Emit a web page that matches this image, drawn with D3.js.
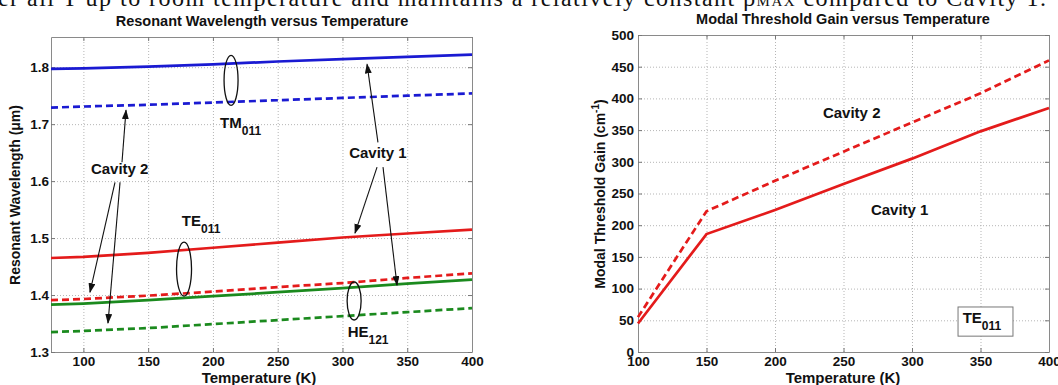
<!DOCTYPE html>
<html>
<head>
<meta charset="utf-8">
<script src="https://cdn.jsdelivr.net/npm/d3@7"></script>
<style>
  body { margin: 0; background: #fff; }
  svg { display: block; font-family: "Liberation Sans", Arial, sans-serif; }
  .tick text { font-weight: bold; font-size: 13.5px; fill: #111; }
  .domain { stroke: #8a8a8a; }
  .tick line { stroke: #777; }
  .grid .tick line { stroke: #b5b5b5; stroke-dasharray: 1,2; }
  .grid .domain { display: none; }
  .lbl { font-weight: bold; fill: #111; }
</style>
</head>
<body>
<svg id="fig" width="1058" height="385"></svg>
<script>
// Left panel: resonant wavelength (um) vs temperature (K)
const tempsL = [75, 100, 150, 200, 250, 300, 350, 400];
const tmCav1 = [1.797, 1.798, 1.801, 1.805, 1.810, 1.814, 1.818, 1.822];
const tmCav2 = [1.729, 1.731, 1.734, 1.738, 1.742, 1.746, 1.750, 1.754];
const teCav1 = [1.465, 1.467, 1.474, 1.483, 1.492, 1.501, 1.508, 1.515];
const teCav2 = [1.391, 1.393, 1.399, 1.406, 1.414, 1.421, 1.430, 1.438];
const heCav1 = [1.383, 1.385, 1.391, 1.398, 1.405, 1.412, 1.420, 1.427];
const heCav2 = [1.335, 1.337, 1.342, 1.349, 1.356, 1.363, 1.370, 1.377];
const xTicksL = [100, 150, 200, 250, 300, 350, 400];
const yTicksL = [1.3, 1.4, 1.5, 1.6, 1.7, 1.8];

// Right panel: modal threshold gain (cm^-1) vs temperature, TE011
const tempsR = [100, 150, 200, 250, 300, 350, 400];
const gainCav1 = [45, 186, 224, 265, 305, 348, 385];
const gainCav2 = [55, 222, 270, 316, 362, 408, 460];
const xTicksR = [100, 150, 200, 250, 300, 350, 400];
const yTicksR = [0, 50, 100, 150, 200, 250, 300, 350, 400, 450, 500];

const BLUE = "#1a1ad2", RED = "#e41b1b", GREEN = "#1b8a1e";

const svg = d3.select("#fig");

svg.append("defs").append("marker")
  .attr("id", "arr")
  .attr("markerUnits", "userSpaceOnUse")
  .attr("markerWidth", 10).attr("markerHeight", 8)
  .attr("refX", 9).attr("refY", 3.5)
  .attr("orient", "auto")
  .append("path").attr("d", "M0,0 L10,3.5 L0,7 z").attr("fill", "#111");

// clipped sentence from the page above the figure
const pageLine = svg.append("text")
  .attr("x", -2).attr("y", 6)
  .attr("textLength", 1048).attr("lengthAdjust", "spacing")
  .style("font-family", "'Liberation Serif', 'Times New Roman', serif")
  .style("font-size", "24px").attr("fill", "#111");
pageLine.append("tspan").text("er all T up to room temperature and maintains a relatively constant \u03C1");
pageLine.append("tspan").style("font-size", "15px").text("MAX");
pageLine.append("tspan").text(" compared to Cavity 1.");

function frame(x, y, xt, yt, yfmt, ypad) {
  const [x0, x1] = x.range(), [y0, y1] = y.range();
  const g = svg.append("g");
  // grid
  g.append("g").attr("class", "grid").attr("transform", `translate(0,${y0})`)
    .call(d3.axisBottom(x).tickValues(xt).tickSize(-(y0 - y1)).tickFormat(""));
  g.append("g").attr("class", "grid").attr("transform", `translate(${x0},0)`)
    .call(d3.axisLeft(y).tickValues(yt).tickSize(-(x1 - x0)).tickFormat(""));
  // axes with inward ticks
  g.append("g").attr("transform", `translate(0,${y0})`)
    .call(d3.axisBottom(x).tickValues(xt).tickSize(-4).tickSizeOuter(0).tickPadding(4));
  g.append("g").attr("transform", `translate(0,${y1})`)
    .call(d3.axisTop(x).tickValues(xt).tickSize(-4).tickSizeOuter(0).tickFormat(""));
  g.append("g").attr("transform", `translate(${x0},0)`)
    .call(d3.axisLeft(y).tickValues(yt).tickSize(-4).tickSizeOuter(0).tickPadding(ypad).tickFormat(yfmt));
  g.append("g").attr("transform", `translate(${x1},0)`)
    .call(d3.axisRight(y).tickValues(yt).tickSize(-4).tickSizeOuter(0).tickFormat(""));
  return g;
}

function series(x, y, xs, ys, color, dashed) {
  svg.append("path")
    .datum(d3.zip(xs, ys))
    .attr("fill", "none")
    .attr("stroke", color)
    .attr("stroke-width", 2.7)
    .attr("stroke-dasharray", dashed ? "7,4" : null)
    .attr("d", d3.line().x(d => x(d[0])).y(d => y(d[1])));
}

function label(x, y, t, v, txt, sub, anchor) {
  const el = svg.append("text").attr("class", "lbl")
    .attr("x", x(t)).attr("y", y(v))
    .attr("text-anchor", anchor || "start")
    .style("font-size", "15px").text(txt);
  if (sub) el.append("tspan").attr("dy", 7).style("font-size", "12px").text(sub);
}

function arrow(x, y, t0, v0, t1, v1) {
  svg.append("line")
    .attr("x1", x(t0)).attr("y1", y(v0)).attr("x2", x(t1)).attr("y2", y(v1))
    .attr("stroke", "#111").attr("stroke-width", 1.1)
    .attr("marker-end", "url(#arr)");
}

function ring(x, y, t, v, rx, ry) {
  svg.append("ellipse")
    .attr("cx", x(t)).attr("cy", y(v)).attr("rx", rx).attr("ry", ry)
    .attr("fill", "none").attr("stroke", "#111").attr("stroke-width", 1.3);
}

// ---------- left panel ----------
const xL = d3.scaleLinear().domain([75, 400]).range([51, 472]);
const yL = d3.scaleLinear().domain([1.3, 1.853]).range([352, 37]);
frame(xL, yL, xTicksL, yTicksL, d3.format(".1f"), 2);

series(xL, yL, tempsL, tmCav1, BLUE, false);
series(xL, yL, tempsL, tmCav2, BLUE, true);
series(xL, yL, tempsL, teCav1, RED, false);
series(xL, yL, tempsL, teCav2, RED, true);
series(xL, yL, tempsL, heCav1, GREEN, false);
series(xL, yL, tempsL, heCav2, GREEN, true);

ring(xL, yL, 214, 1.777, 7, 25);
ring(xL, yL, 177.7, 1.4456, 7.5, 27);
ring(xL, yL, 309, 1.3895, 7, 19);
label(xL, yL, 205.5, 1.693, "TM", "011");
label(xL, yL, 176, 1.521, "TE", "011");
label(xL, yL, 304, 1.326, "HE", "121");
label(xL, yL, 128, 1.612, "Cavity 2", null, "middle");
label(xL, yL, 327.4, 1.640, "Cavity 1", null, "middle");

arrow(xL, yL, 129.8, 1.633, 132.9, 1.7246);
arrow(xL, yL, 124.4, 1.598, 105.1, 1.405);
arrow(xL, yL, 128.3, 1.598, 119, 1.351);
arrow(xL, yL, 327.4, 1.668, 319, 1.805);
arrow(xL, yL, 326.7, 1.6246, 309.7, 1.5088);
arrow(xL, yL, 331.3, 1.6246, 342.1, 1.4175);

svg.append("text").attr("class", "lbl")
  .attr("x", 262).attr("y", 26).attr("text-anchor", "middle")
  .style("font-size", "14.5px").text("Resonant Wavelength versus Temperature");
svg.append("text").attr("class", "lbl")
  .attr("x", 259).attr("y", 383).attr("text-anchor", "middle")
  .style("font-size", "15px").text("Temperature (K)");
svg.append("text").attr("class", "lbl")
  .attr("transform", "translate(20,195) rotate(-90)").attr("text-anchor", "middle")
  .style("font-size", "14px").text("Resonant Wavelength (\u03BCm)");

// ---------- right panel ----------
const xR = d3.scaleLinear().domain([100, 400]).range([638, 1049]);
const yR = d3.scaleLinear().domain([0, 500]).range([352, 35]);
frame(xR, yR, xTicksR, yTicksR, d3.format("d"), 4);

series(xR, yR, tempsR, gainCav1, RED, false);
series(xR, yR, tempsR, gainCav2, RED, true);

label(xR, yR, 256, 369, "Cavity 2", null, "middle");
label(xR, yR, 291, 216, "Cavity 1", null, "middle");

svg.append("rect")
  .attr("x", xR(333.6)).attr("y", yR(71))
  .attr("width", xR(373.7) - xR(333.6)).attr("height", yR(25) - yR(71))
  .attr("fill", "#fff").attr("stroke", "#777").attr("stroke-width", 1);
label(xR, yR, 337, 46, "TE", "011");

svg.append("text").attr("class", "lbl")
  .attr("x", 843).attr("y", 24).attr("text-anchor", "middle")
  .style("font-size", "14.5px").text("Modal Threshold Gain versus Temperature");
svg.append("text").attr("class", "lbl")
  .attr("x", 843).attr("y", 383).attr("text-anchor", "middle")
  .style("font-size", "15px").text("Temperature (K)");
const yTitleR = svg.append("text").attr("class", "lbl")
  .attr("transform", "translate(605,194) rotate(-90)").attr("text-anchor", "middle")
  .style("font-size", "14px").text("Modal Threshold Gain (cm");
yTitleR.append("tspan").attr("dy", -6).style("font-size", "10px").text("-1");
yTitleR.append("tspan").attr("dy", 6).text(")");
</script>
</body>
</html>
